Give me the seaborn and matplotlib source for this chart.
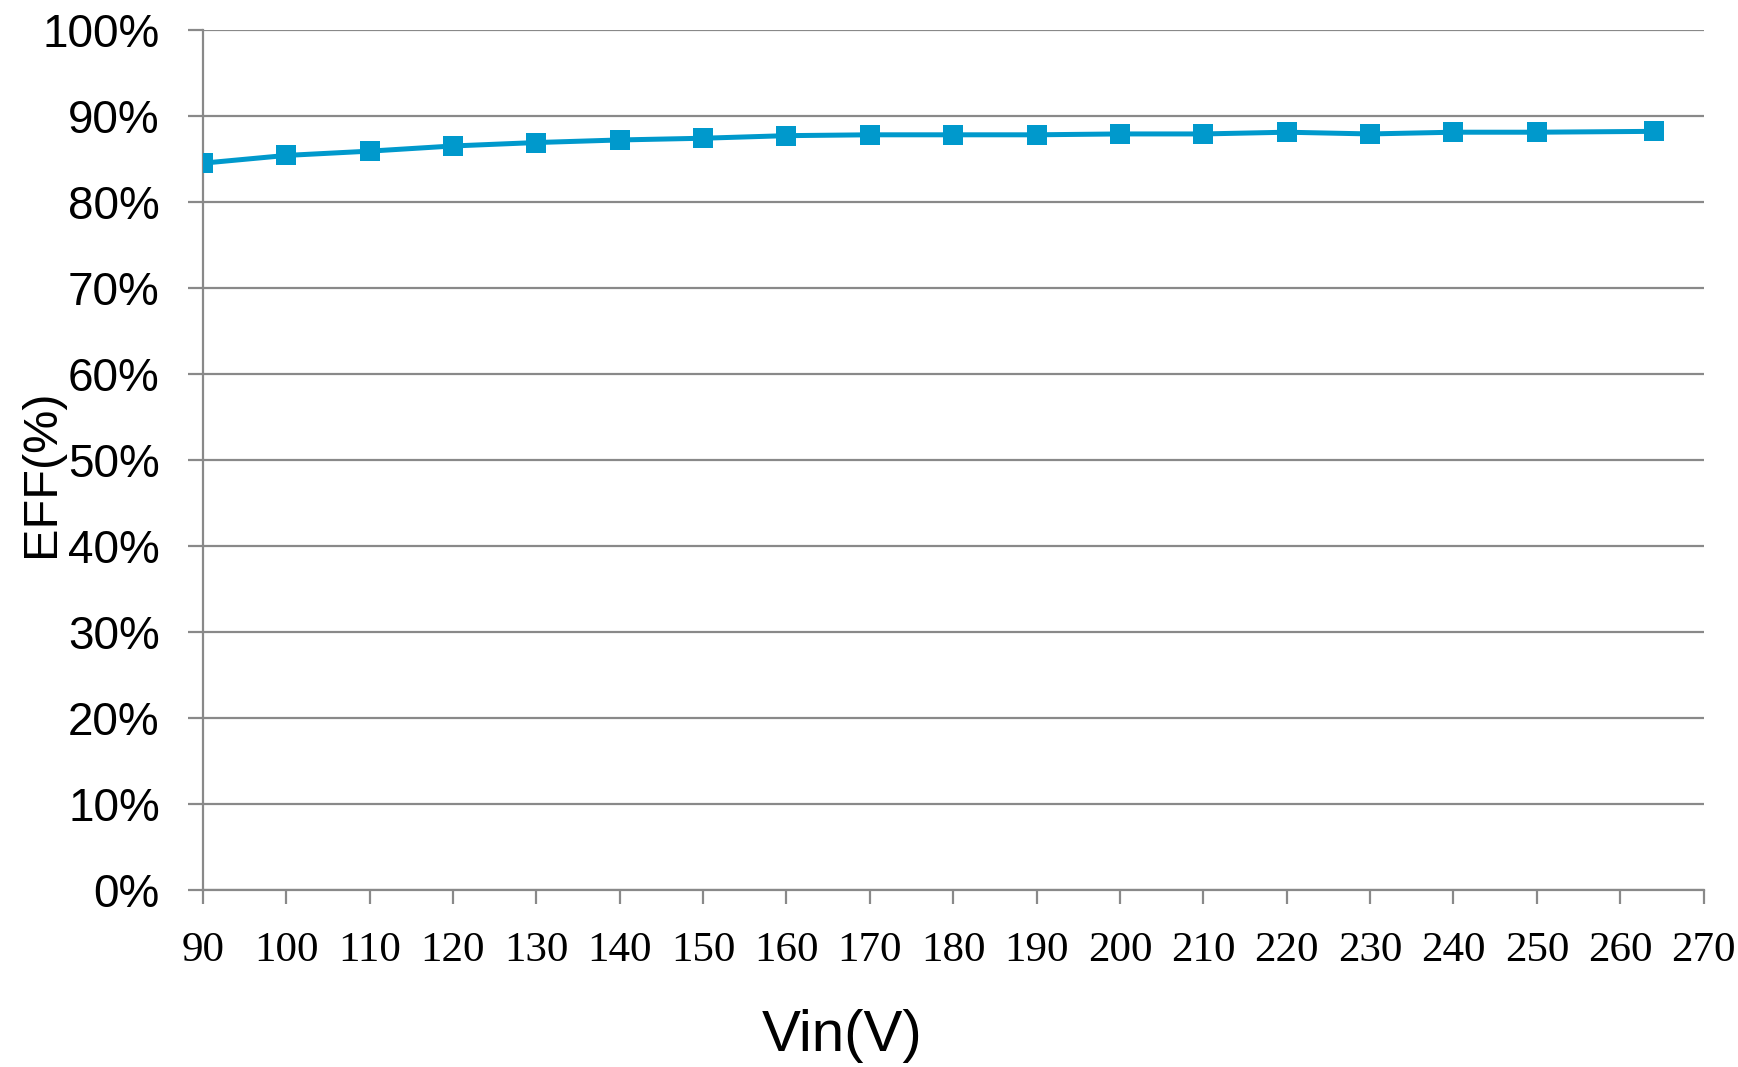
import matplotlib
matplotlib.use("Agg")
import matplotlib.pyplot as plt
import seaborn as sns
import pandas as pd
from matplotlib.ticker import FuncFormatter

vin = [90, 100, 110, 120, 130, 140, 150, 160, 170, 180, 190, 200, 210, 220, 230, 240, 250, 264]
eff = [84.5, 85.4, 85.9, 86.5, 86.9, 87.2, 87.4, 87.7, 87.8, 87.8, 87.8, 87.9, 87.9, 88.1, 87.9, 88.1, 88.1, 88.2]
x_ticks = list(range(90, 271, 10))
y_ticks = list(range(0, 101, 10))

sns.set_style("white")
plt.rcParams['font.family'] = ['Liberation Sans', 'DejaVu Sans']
plt.rcParams['text.color'] = 'black'
plt.rcParams['xtick.labelcolor'] = 'black'
plt.rcParams['ytick.labelcolor'] = 'black'

df = pd.DataFrame({"Vin": vin, "EFF": eff})

fig = plt.figure(figsize=(17.38, 10.67), dpi=100)
ax = fig.add_axes([0.1167, 0.166, 0.8635, 0.806])

grid_c = "#898989"
for y in y_ticks:
    ax.axhline(y, color=grid_c, lw=1.6, zorder=1)

sns.lineplot(data=df, x="Vin", y="EFF", ax=ax, color="#0099CC", lw=3.6,
             marker="s", markersize=15, markeredgewidth=0, zorder=3)

ax.set_xlim(90, 270)
ax.set_ylim(0, 100)
ax.set_xticks(x_ticks)
ax.set_yticks(y_ticks)
ax.yaxis.set_major_formatter(FuncFormatter(lambda v, p: f"{int(v)}%"))
ax.set_xlabel("")
ax.set_ylabel("")

for s in ["top", "right"]:
    ax.spines[s].set_visible(False)
for s in ["left", "bottom"]:
    ax.spines[s].set_color(grid_c)
    ax.spines[s].set_linewidth(1.6)

ax.tick_params(axis="y", direction="out", length=11, width=1.6, color=grid_c,
               pad=20, labelsize=33, left=True, labelcolor="black")
ax.tick_params(axis="x", direction="out", length=10, width=1.6, color=grid_c,
               pad=20, labelsize=31, bottom=True, labelcolor="black")
for lab in ax.get_xticklabels():
    lab.set_fontfamily("Liberation Serif")

fig.text(41 / 1738, 594 / 1067, "EFF(%)", rotation=90, ha="center", va="center", fontsize=35, color="black")
fig.text(842 / 1738, 1 - 1036 / 1067, "Vin(V)", ha="center", va="center", fontsize=42, color="black")

fig.savefig("out.png", dpi=100)
